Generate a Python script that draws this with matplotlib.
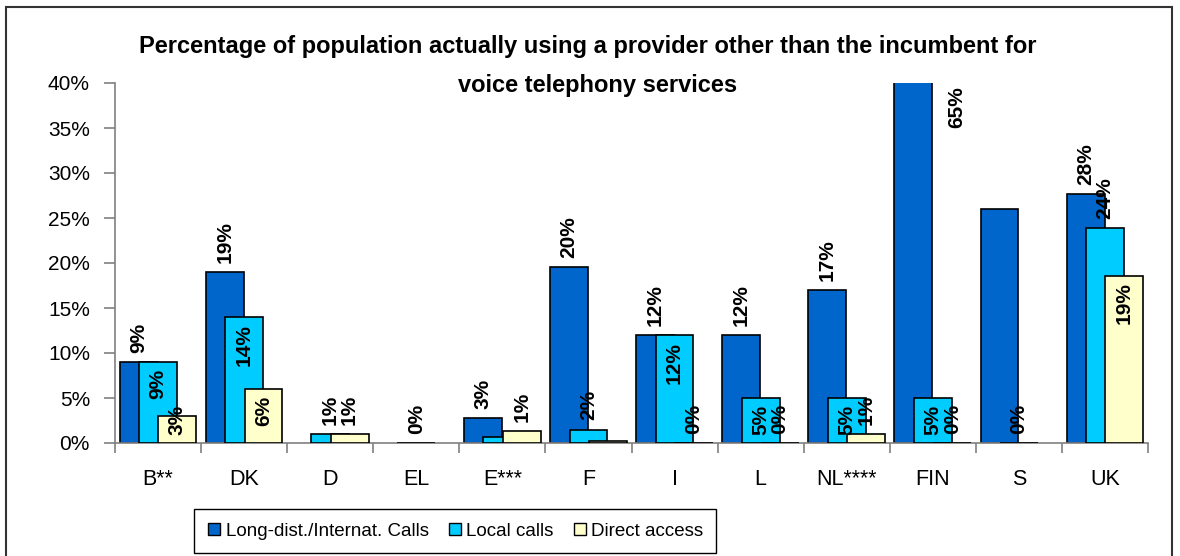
import numpy as np
import matplotlib.pyplot as plt
from matplotlib.patches import Rectangle
from matplotlib.lines import Line2D

FONT = ['Liberation Sans', 'DejaVu Sans']

countries = ['B**', 'DK', 'D', 'EL', 'E***', 'F', 'I', 'L', 'NL****', 'FIN', 'S', 'UK']
series_names = ['Long-dist./Internat. Calls', 'Local calls', 'Direct access']
title_lines = ['Percentage of population actually using a provider other than the incumbent for',
               'voice telephony services']

# values in %, nan = no bar
long_dist = [9, 19, np.nan, np.nan, 2.8, 19.6, 12, 12, 17, 65, 26, 27.7]
local = [9, 14, 1, 0, 0.7, 1.5, 12, 5, 5, 5, 0, 23.9]
direct = [3, 6, 1, np.nan, 1.3, 0.25, 0, 0, 1, 0, np.nan, 18.6]

long_dist_labels = ['9%', '19%', None, None, '3%', '20%', '12%', '12%', '17%', '65%', None, '28%']
local_labels = ['9%', '14%', '1%', '0%', None, '2%', '12%', '5%', '5%', '5%', '0%', '24%']
direct_labels = ['3%', '6%', '1%', None, '1%', None, '0%', '0%', '1%', '0%', None, '19%']

# label placement: o = above bar end, i = inside bar end, c = centred on bar end
long_dist_pos = ['o', 'o', '', '', 'o', 'o', 'o', 'o', 'o', 'o', '', 'o']
local_pos = ['i', 'i', 'o', 'o', '', 'o', 'i', 'i', 'i', 'i', 'o', 'o']
direct_pos = ['c', 'i', 'o', '', 'o', '', 'o', 'o', 'o', 'o', '', 'i']

colors = ['#0066CC', '#00CCFF', '#FFFFCC']
offsets = [-0.225, 0.0, 0.225]
YMAX = 40
LABEL_SIZE = 15


def draw_labels(ax, xs, values, labels, modes, dx):
    for x, v, lab, m in zip(xs, values, labels, modes):
        if lab is None:
            continue
        if v > YMAX:
            # clipped bar: label goes next to the top
            ax.text(x + dx + 0.5, YMAX - 0.4, lab, rotation=90, ha='center', va='top',
                    fontsize=LABEL_SIZE, fontweight='bold', family=FONT, clip_on=False,
                    zorder=10)
            continue
        if m == 'o':
            y, va = v + 1.0, 'bottom'
        elif m == 'i':
            y, va = v - 0.75, 'top'
        else:
            y, va = v - 0.4, 'center'
        ax.text(x + dx, y, lab, rotation=90, ha='center', va=va,
                fontsize=LABEL_SIZE, fontweight='bold', family=FONT, zorder=10)


def main():
    fig = plt.figure(figsize=(11.8, 5.56), dpi=100)
    ax = fig.add_axes([115 / 1180, 1 - 443 / 556, 1033 / 1180, 360 / 556])

    x = np.arange(len(countries))
    data = [long_dist, local, direct]
    labels = [long_dist_labels, local_labels, direct_labels]
    modes = [long_dist_pos, local_pos, direct_pos]
    for i in range(3):
        vals = np.array(data[i], dtype=float)
        ax.bar(x + offsets[i], vals, width=0.44, color=colors[i], edgecolor='black',
               linewidth=1.2, zorder=2 + i)
    for i in range(3):
        draw_labels(ax, x, data[i], labels[i], modes[i], offsets[i])

    ax.set_xlim(-0.5, len(countries) - 0.5)
    ax.set_ylim(0, YMAX)
    ax.set_yticks(range(0, YMAX + 1, 5))
    ax.set_yticklabels([f'{v}%' for v in range(0, YMAX + 1, 5)], family=FONT, fontsize=15)
    ax.set_xticks(x)
    ax.set_xticklabels(countries, family=FONT, fontsize=15.5)
    ax.set_xticks(np.arange(-0.5, len(countries)), minor=True)
    ax.tick_params(axis='x', which='major', length=0, pad=19)
    ax.tick_params(axis='x', which='minor', length=7, color='#808080', width=1.2)
    ax.tick_params(axis='y', length=8, color='#808080', width=1.2, pad=10)
    for s in ['top', 'right']:
        ax.spines[s].set_visible(False)
    for s in ['left', 'bottom']:
        ax.spines[s].set_color('#808080')
        ax.spines[s].set_linewidth(1.2)

    # title, one text per line (baselines at 53 and 92 px)
    fig.text(588 / 1180, 1 - 53 / 556, title_lines[0], ha='center', va='baseline',
             fontsize=17, fontweight='bold', family=FONT)
    fig.text(598 / 1180, 1 - 92 / 556, title_lines[1], ha='center', va='baseline',
             fontsize=17, fontweight='bold', family=FONT)

    handles = [Line2D([], [], ls='none', marker='s', markersize=8, markerfacecolor=c,
                      markeredgecolor='black', markeredgewidth=1) for c in colors]
    fig.legend(handles, series_names, loc='center', ncol=3,
               bbox_to_anchor=(455 / 1180, 1 - 531 / 556),
               frameon=True, fancybox=False, edgecolor='black', framealpha=1,
               prop={'family': FONT, 'size': 13.5}, handletextpad=0.2,
               handlelength=0.8, columnspacing=1.0, borderaxespad=0,
               borderpad=0.7)

    fig.patches.append(Rectangle((6 / 1180, -0.01), 1166 / 1180, 1 - 7 / 556 + 0.01,
                                 transform=fig.transFigure, fill=False,
                                 edgecolor='#333333', linewidth=1.5))
    fig.savefig('out.png', dpi=100)


if __name__ == '__main__':
    main()
